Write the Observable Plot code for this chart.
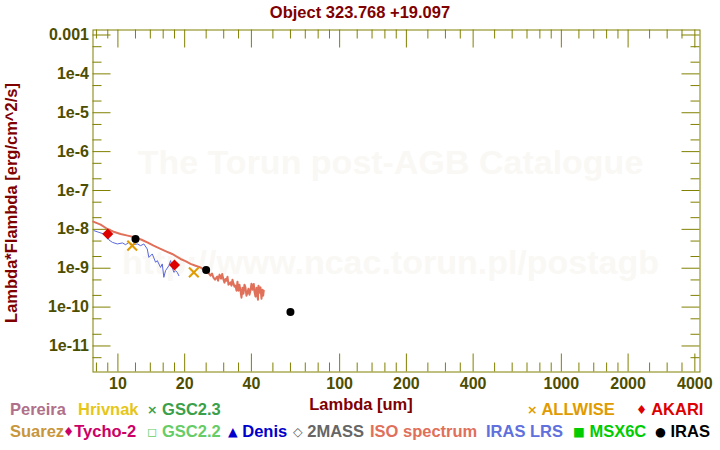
<!DOCTYPE html>
<html><head><meta charset="utf-8">
<script src="https://cdn.jsdelivr.net/npm/d3@7"></script>
<script src="https://cdn.jsdelivr.net/npm/@observablehq/plot@0.6"></script>
<style>
body{margin:0;background:#fff;}
#wrap{position:relative;width:720px;height:450px;font-family:"Liberation Sans",Arial,sans-serif;font-weight:bold;overflow:hidden;}
#wrap svg{position:absolute;left:0;top:0;}
.t{position:absolute;white-space:nowrap;line-height:1;transform:translateY(-50%);}
.sym{font-family:"DejaVu Sans",sans-serif;font-size:12.5px;position:relative;top:-1px;}
</style></head><body><div id="wrap"></div>
<script>
// ---------------- data ----------------
const titleText = "Object 323.768 +19.097";
const xLabelText = "Lambda [um]";
const yLabelText = "Lambda*Flambda [erg/cm^2/s]";
const watermark1 = "The Torun post-AGB Catalogue";
const watermark2 = "http://www.ncac.torun.pl/postagb";

const isoLambda = [7.74, 8.36, 8.96, 9.56, 10.28, 11.06, 12.02, 12.79, 13.57, 14.48, 15.57, 16.58, 17.57, 19.17, 20.17, 21.27, 22.4, 23.56, 24.8, 25.67,
  26.16, 26.57, 26.98, 27.41, 28.04, 28.28, 28.72, 29.17, 29.53, 29.93, 30.24, 30.56, 30.88, 31.20, 31.52, 31.86, 32.19, 32.53, 32.86, 33.21,
  33.55, 33.90, 34.26, 34.61, 34.97, 35.33, 35.70, 36.08, 36.45, 36.84, 37.22, 37.60, 37.99, 38.39, 38.79, 39.20, 39.60, 40.03, 40.45, 40.99,
  41.29, 41.73, 42.16, 42.46, 42.81, 43.05, 43.49, 43.95, 44.41, 44.87, 45.19, 45.48];
const isoFlux = [1.58e-8, 1.32e-8, 1.02e-8, 8.7e-9, 7.6e-9, 6.9e-9, 6.2e-9, 5.4e-9, 4.6e-9, 3.8e-9, 3.13e-9, 2.67e-9, 2.33e-9, 1.73e-9, 1.52e-9, 1.29e-9, 1.16e-9, 1.05e-9, 8.7e-10, 7.5e-10,
  6.44e-10, 7.25e-10, 5.73e-10, 5.08e-10, 6.07e-10, 4.79e-10, 6.84e-10, 5.39e-10, 7.13e-10, 5.08e-10, 4.26e-10, 5.30e-10, 4.79e-10, 6.07e-10, 3.78e-10, 4.01e-10, 4.33e-10, 3.56e-10, 5.08e-10, 4.01e-10,
  3.36e-10, 3.56e-10, 2.65e-10, 4.52e-10, 2.65e-10, 3.78e-10, 2.65e-10, 1.75e-10, 3.16e-10, 2.22e-10, 3.78e-10, 3.22e-10, 1.97e-10, 2.35e-10, 2.98e-10, 2.09e-10, 2.65e-10, 4.01e-10, 2.81e-10, 3.94e-10,
  2.50e-10, 1.86e-10, 3.16e-10, 2.18e-10, 1.55e-10, 3.56e-10, 2.35e-10, 3.22e-10, 1.65e-10, 2.81e-10, 1.97e-10, 2.65e-10];

const lrsLambda = [7.80, 8.21, 8.65, 8.89, 9.11, 9.44, 9.94, 10.47, 10.83, 11.17, 11.65, 12.23, 12.66, 13.09, 13.56, 13.79, 14.29, 14.79, 15.05, 15.57,
  15.85, 16.11, 16.40, 16.97, 17.28, 17.58, 17.88, 18.20, 18.52, 18.83];
const lrsFlux = [9.26e-9, 8.37e-9, 7.61e-9, 7.31e-9, 5.34e-9, 4.63e-9, 4.21e-9, 4.47e-9, 4.04e-9, 4.55e-9, 4.04e-9, 4.21e-9, 3.81e-9, 4.21e-9, 3.13e-9, 1.90e-9, 2.33e-9, 1.42e-9, 1.57e-9, 1.05e-9,
  1.29e-9, 5.83e-10, 8.66e-10, 1.16e-9, 1.57e-9, 1.05e-9, 7.83e-10, 8.66e-10, 7.83e-10, 6.44e-10];

const akariLambda = [9, 18];
const akariFlux = [7.6e-9, 1.21e-9];
const irasLambda = [12, 25, 60];
const irasFlux = [5.66e-9, 9.03e-10, 7.5e-11];
const allwiseLambda = [11.6, 22.0];
const allwiseFlux = [3.81e-9, 7.83e-10];

const xTickLabels = [10, 20, 40, 100, 200, 400, 1000, 2000, 4000];
const xMinorTicks = [8, 9, 12, 14, 16, 18, 25, 30, 35, 50, 60, 70, 80, 90, 120, 140, 160, 180, 250, 300, 350,
  500, 600, 700, 800, 900, 1200, 1400, 1600, 1800, 2500, 3000, 3500];
const yTickValues = [1e-3, 1e-4, 1e-5, 1e-6, 1e-7, 1e-8, 1e-9, 1e-10, 1e-11];
const yTickLabels = ["0.001", "1e-4", "1e-5", "1e-6", "1e-7", "1e-8", "1e-9", "1e-10", "1e-11"];
const yMinorTicks = [5e-4, 2e-4, 5e-5, 2e-5, 5e-6, 2e-6, 5e-7, 2e-7, 5e-8, 2e-8, 5e-9, 2e-9, 5e-10, 2e-10, 5e-11, 2e-11, 5e-12];

const legendRow1Names = ["Pereira", "Hrivnak", "GSC2.3", "ALLWISE", "AKARI"];
const legendRow1Symbols = ["", "", "×", "×", "♦"];
const legendRow1Colors = ["#b0708a", "#e6c619", "#3aa04a", "#e09b00", "#dd0000"];
const legendRow2Names = ["Suarez", "Tycho-2", "GSC2.2", "Denis", "2MASS", "ISO spectrum", "IRAS LRS", "MSX6C", "IRAS"];
const legendRow2Symbols = ["", "♦", "◻", "▲", "◇", "", "", "■", "●"];
const legendRow2Colors = ["#c8963c", "#cc0066", "#66cc66", "#0000cc", "#666666", "#e0705a", "#6070dd", "#00cc00", "#000000"];

// ---------------- layout ----------------
const W = 720, H = 450;
const mL = 92.5, mT = 29.5, mR = 20.5, mB = 78.5;
const plotW = W - mL - mR, plotH = H - mT - mB;
const olive = "#808000", labelCol = "#4d4d00", darkRed = "#800000";

const iso = isoLambda.map((l, i) => ({l, f: isoFlux[i]}));
const lrs = lrsLambda.map((l, i) => ({l, f: lrsFlux[i]}));
const akari = akariLambda.map((l, i) => ({l, f: akariFlux[i]}));
const iras = irasLambda.map((l, i) => ({l, f: irasFlux[i]}));
const allwise = allwiseLambda.map((l, i) => ({l, f: allwiseFlux[i]}));

const chart = Plot.plot({
  width: W, height: H,
  marginLeft: mL, marginTop: mT, marginRight: mR, marginBottom: mB,
  style: {fontFamily: "'Liberation Sans', Arial, sans-serif", fontSize: "16px", fontWeight: "bold", background: "transparent", overflow: "visible"},
  x: {type: "log", domain: [7.72, 4220], axis: null},
  y: {type: "log", domain: [2.14e-12, 1.345e-3], axis: null},
  marks: [
    Plot.text([watermark1], {text: d => d, frameAnchor: "middle", dx: -6, dy: -38, fontSize: 34, fontWeight: "bold", fill: "#faf8f4"}),
    Plot.text([watermark2], {text: d => d, frameAnchor: "middle", dx: -6, dy: 62, fontSize: 34, fontWeight: "bold", fill: "#faf8f4"}),
    // x ticks bottom & top
    Plot.tickX(xTickLabels, {x: d => d, insetTop: plotH - 18, stroke: olive}),
    Plot.tickX(xTickLabels, {x: d => d, insetBottom: plotH - 18, stroke: olive}),
    Plot.tickX(xMinorTicks, {x: d => d, insetTop: plotH - 9, stroke: olive}),
    Plot.tickX(xMinorTicks, {x: d => d, insetBottom: plotH - 9, stroke: olive}),
    // y ticks left & right
    Plot.tickY(yTickValues, {y: d => d, insetRight: plotW - 18, stroke: olive}),
    Plot.tickY(yTickValues, {y: d => d, insetLeft: plotW - 18, stroke: olive}),
    Plot.tickY(yMinorTicks, {y: d => d, insetRight: plotW - 9, stroke: olive}),
    Plot.tickY(yMinorTicks, {y: d => d, insetLeft: plotW - 9, stroke: olive}),
    Plot.frame({stroke: olive}),
    // data
    Plot.line(iso, {x: "l", y: "f", stroke: "#e0705a", strokeWidth: 2}),
    Plot.line(lrs, {x: "l", y: "f", stroke: "#5a68dd", strokeWidth: 1}),
    Plot.dot(allwise, {x: "l", y: "f", symbol: "times", r: 4.5, stroke: "#e09b00", strokeWidth: 2}),
    Plot.dot(akari, {x: "l", y: "f", symbol: "diamond2", r: 5, fill: "#dd0000", stroke: "none"}),
    Plot.dot(iras, {x: "l", y: "f", r: 4, fill: "#000000", stroke: "none"}),
    // tick labels
    Plot.text(xTickLabels, {x: d => d, frameAnchor: "bottom", lineAnchor: "top", dy: 6, text: d => String(d), fill: labelCol, fontSize: 16, fontWeight: "bold"}),
    Plot.text(yTickValues, {y: d => d, frameAnchor: "left", textAnchor: "end", dx: -4, text: (d, i) => yTickLabels[i], fill: labelCol, fontSize: 16, fontWeight: "bold"})
  ]
});
const wrap = document.getElementById("wrap");
wrap.appendChild(chart);

function addText(txt, x, y, color, size, anchor) {
  const s = document.createElement("span");
  s.className = "t";
  s.textContent = txt;
  s.style.left = x + "px"; s.style.top = y + "px";
  s.style.color = color; s.style.fontSize = size + "px";
  if (anchor === "middle") s.style.transform = "translate(-50%,-50%)";
  wrap.appendChild(s);
  return s;
}
addText(titleText, 360, 12, darkRed, 16.5, "middle");
addText(xLabelText, 361, 404, darkRed, 16.5, "middle");
const yl = addText(yLabelText, 11, 203, darkRed, 16.5, "middle");
yl.style.transform = "translate(-50%,-50%) rotate(-90deg)";

function addLegend(names, syms, colors, xs, y, tight) {
  names.forEach((n, i) => {
    const s = document.createElement("span");
    s.className = "t";
    s.style.left = xs[i] + "px"; s.style.top = y + "px";
    s.style.color = colors[i]; s.style.fontSize = "16.5px";
    if (syms[i]) {
      const g = document.createElement("span");
      g.className = "sym"; g.textContent = syms[i];
      s.appendChild(g);
      s.appendChild(document.createTextNode(tight === i ? n : " " + n));
    } else s.appendChild(document.createTextNode(n));
    wrap.appendChild(s);
  });
}
addLegend(legendRow1Names, legendRow1Symbols, legendRow1Colors, [10, 78, 147, 527, 636], 409, -1);
addLegend(legendRow2Names, legendRow2Symbols, legendRow2Colors, [10, 63, 147, 228, 293, 370, 486, 573, 655], 431, 1);
</script></body></html>
